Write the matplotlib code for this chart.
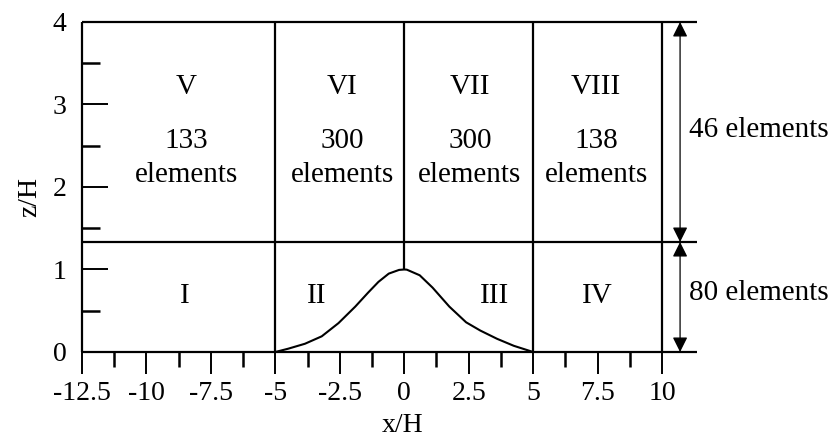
import matplotlib
matplotlib.use("Agg")
import matplotlib.pyplot as plt
import matplotlib.ticker as mticker

# Mesh layout: block edges in x/H, layer interface and top in z/H
block_edges = [-12.5, -5.0, 0.0, 5.0, 10.0]
z_interface = 1.333
z_top = 4.0

# Hill profile read along the lower boundary (x/H, z/H)
hill_x = [-5.0, -4.5, -3.85, -3.2, -2.55, -1.9, -1.4, -1.0, -0.6, -0.2, 0.0,
          0.1, 0.6, 1.1, 1.75, 2.4, 2.95, 3.6, 4.25, 4.9, 5.0]
hill_z = [0.0, 0.04, 0.10, 0.19, 0.35, 0.55, 0.72, 0.85, 0.95, 0.995, 1.0,
          0.998, 0.93, 0.78, 0.55, 0.36, 0.26, 0.16, 0.075, 0.01, 0.0]

# Block labels
upper_names = ["V", "VI", "VII", "VIII"]
upper_counts = [133, 300, 300, 138]
upper_x = [-8.45, -2.4, 2.55, 7.45]
lower_names = ["I", "II", "III", "IV"]
lower_x = [-8.5, -3.4, 3.5, 7.5]

# Vertical element counts per layer
layer_counts = [80, 46]

x_major = [-12.5, -10, -7.5, -5, -2.5, 0, 2.5, 5, 7.5, 10]
y_major = [0, 1, 2, 3, 4]

FONT = "Liberation Serif"
FS = 21
FS_AX = 20
x_arrow = 10.7
x_right = 11.36

plt.rcParams["font.family"] = [FONT, "DejaVu Serif"]

fig = plt.figure(figsize=(8.34, 4.45), dpi=100)
ax = fig.add_axes([0.0983, 0.209, 0.6955, 0.7416])
ax.set_xlim(-12.5, 10)
ax.set_ylim(0, 4)
for s in ax.spines.values():
    s.set_visible(False)

lw = 1.6
# horizontal boundaries (bottom, interface, top)
for z in [0.0, z_interface, z_top]:
    ax.plot([block_edges[0], x_right], [z, z], color="black", lw=lw,
            clip_on=False, solid_capstyle="butt")
# vertical block edges; the one at x=0 stops on the hill crest
for x in block_edges:
    z0 = max(hill_z) if x == 0 else 0.0
    ax.plot([x, x], [z0, z_top], color="black", lw=lw, clip_on=False,
            solid_capstyle="butt")

ax.plot(hill_x, hill_z, color="black", lw=1.5, clip_on=False)

# ticks
ax.set_xticks(x_major)
ax.xaxis.set_major_formatter(mticker.FuncFormatter(lambda v, _: f"{v:g}"))
ax.xaxis.set_minor_locator(mticker.MultipleLocator(1.25))
ax.set_yticks(y_major)
ax.yaxis.set_minor_locator(mticker.MultipleLocator(0.5))
ax.tick_params(axis="x", which="major", direction="out", length=16,
               width=1.4, labelsize=FS_AX, pad=5, color="black")
ax.tick_params(axis="x", which="minor", direction="out", length=11,
               width=1.8)
ax.tick_params(axis="y", which="major", direction="in", length=18.7,
               width=1.4, labelsize=FS_AX, pad=11)
ax.tick_params(axis="y", which="minor", direction="in", length=13,
               width=1.8)

ax.set_xlabel("x/H", fontsize=FS_AX)
ax.xaxis.set_label_coords(0.553, -0.186)
ax.set_ylabel("z/H", fontsize=FS_AX)
ax.yaxis.set_label_coords(-0.068, 0.47)

# block labels
for name, cnt, x in zip(upper_names, upper_counts, upper_x):
    ax.text(x, 3.21, name, ha="center", va="center", fontsize=FS)
    ax.text(x, 2.56, f"{cnt}", ha="center", va="center", fontsize=FS)
    ax.text(x, 2.14, "elements", ha="center", va="center", fontsize=FS)
for name, x in zip(lower_names, lower_x):
    ax.text(x, 0.68, name, ha="center", va="center", fontsize=FS)

# layer extent arrows
arrow_kw = dict(arrowstyle="<|-|>,head_length=0.9,head_width=0.45",
                color="black", lw=0.9, shrinkA=0, shrinkB=0)
ax.annotate("", xy=(x_arrow, z_interface), xytext=(x_arrow, 0.0),
            arrowprops=arrow_kw, annotation_clip=False)
ax.annotate("", xy=(x_arrow, z_top), xytext=(x_arrow, z_interface),
            arrowprops=arrow_kw, annotation_clip=False)
ax.text(11.05, 0.715, f"{layer_counts[0]} elements", ha="left", va="center",
        fontsize=FS, clip_on=False)
ax.text(11.05, 2.69, f"{layer_counts[1]} elements", ha="left", va="center",
        fontsize=FS, clip_on=False)

fig.savefig("out.png", dpi=100)
